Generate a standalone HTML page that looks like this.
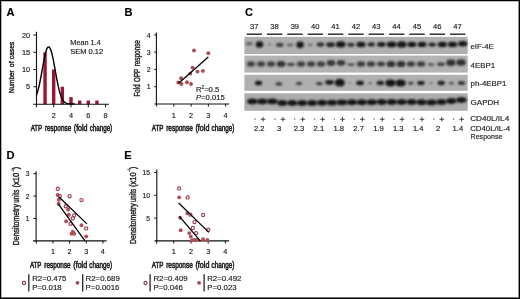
<!DOCTYPE html>
<html><head><meta charset="utf-8"><style>
html,body{margin:0;padding:0;background:#fff;}
body{width:520px;height:299px;overflow:hidden;position:relative;}
svg{position:absolute;left:0;top:0;display:block;will-change:transform;}
svg text{font-family:"Liberation Sans", sans-serif;stroke:#222;stroke-width:0.16px;}
</style></head><body>
<svg width="520" height="299" viewBox="0 0 520 299">
<rect x="0" y="0" width="520" height="299" fill="#fff"/>
<text x="6.60" y="15.70" font-size="11.1" text-anchor="start" font-weight="bold" fill="#000" >A</text>
<rect x="43.35" y="52.25" width="3.4" height="52.05" fill="#9b1538"/>
<rect x="52.00" y="69.50" width="3.4" height="34.80" fill="#9b1538"/>
<rect x="60.65" y="86.75" width="3.4" height="17.55" fill="#9b1538"/>
<rect x="69.30" y="97.10" width="3.4" height="7.20" fill="#9b1538"/>
<rect x="77.95" y="100.55" width="3.4" height="3.75" fill="#9b1538"/>
<rect x="86.60" y="100.55" width="3.4" height="3.75" fill="#9b1538"/>
<rect x="95.25" y="100.55" width="3.4" height="3.75" fill="#9b1538"/>
<path d="M36.40,95.38 L36.83,94.16 L37.27,92.81 L37.70,91.35 L38.13,89.76 L38.56,88.05 L38.99,86.23 L39.43,84.28 L39.86,82.24 L40.29,80.09 L40.73,77.86 L41.16,75.56 L41.59,73.20 L42.02,70.81 L42.45,68.41 L42.89,66.01 L43.32,63.65 L43.75,61.35 L44.19,59.14 L44.62,57.03 L45.05,55.07 L45.48,53.27 L45.91,51.65 L46.35,50.24 L46.78,49.06 L47.21,48.13 L47.64,47.45 L48.08,47.04 L48.51,46.90 L48.94,46.99 L49.38,47.29 L49.81,47.81 L50.24,48.56 L50.67,49.54 L51.11,50.75 L51.54,52.18 L51.97,53.81 L52.40,55.62 L52.84,57.59 L53.27,59.71 L53.70,61.94 L54.13,64.26 L54.56,66.65 L55.00,69.08 L55.43,71.52 L55.86,73.95 L56.30,76.34 L56.73,78.68 L57.16,80.95 L57.59,83.13 L58.02,85.21 L58.46,87.17 L58.89,89.02 L59.32,90.73 L59.76,92.31 L60.19,93.77 L60.62,95.09 L61.05,96.29 L61.48,97.36 L61.92,98.32 L62.35,99.16 L62.78,99.91 L63.22,100.56 L63.65,101.12 L64.08,101.61 L64.51,102.02 L64.94,102.38 L65.38,102.67 L65.81,102.92 L66.24,103.13 L66.67,103.30 L67.11,103.44 L67.54,103.56 L67.97,103.65 L68.41,103.73 L68.84,103.79 L69.27,103.84 L69.70,103.87 L70.14,103.90 L70.57,103.93 L71.00,103.94 L71.43,103.96 L71.87,103.97 L72.30,103.98 L72.73,103.98 L73.16,103.99 L73.59,103.99 L74.03,103.99 L74.46,104.00 L74.89,104.00" fill="none" stroke="#000" stroke-width="1.4"/>
<line x1="36.50" y1="31.80" x2="36.50" y2="104.90" stroke="#111" stroke-width="1.1"/>
<line x1="33.20" y1="104.30" x2="109.00" y2="104.30" stroke="#111" stroke-width="1.1"/>
<line x1="33.40" y1="86.75" x2="36.50" y2="86.75" stroke="#111" stroke-width="1.0"/>
<text x="30.00" y="89.35" font-size="7.3" text-anchor="end" font-weight="normal" fill="#222" >5</text>
<line x1="33.40" y1="69.50" x2="36.50" y2="69.50" stroke="#111" stroke-width="1.0"/>
<text x="30.00" y="72.10" font-size="7.3" text-anchor="end" font-weight="normal" fill="#222" >10</text>
<line x1="33.40" y1="52.25" x2="36.50" y2="52.25" stroke="#111" stroke-width="1.0"/>
<text x="30.00" y="54.85" font-size="7.3" text-anchor="end" font-weight="normal" fill="#222" >15</text>
<line x1="33.40" y1="35.00" x2="36.50" y2="35.00" stroke="#111" stroke-width="1.0"/>
<text x="30.00" y="37.60" font-size="7.3" text-anchor="end" font-weight="normal" fill="#222" >20</text>
<line x1="36.40" y1="104.30" x2="36.40" y2="107.30" stroke="#111" stroke-width="1.0"/>
<line x1="53.70" y1="104.30" x2="53.70" y2="107.30" stroke="#111" stroke-width="1.0"/>
<line x1="71.00" y1="104.30" x2="71.00" y2="107.30" stroke="#111" stroke-width="1.0"/>
<line x1="88.30" y1="104.30" x2="88.30" y2="107.30" stroke="#111" stroke-width="1.0"/>
<line x1="105.60" y1="104.30" x2="105.60" y2="107.30" stroke="#111" stroke-width="1.0"/>
<text x="53.70" y="117.60" font-size="7.3" text-anchor="middle" font-weight="normal" fill="#222" >2</text>
<text x="71.00" y="117.60" font-size="7.3" text-anchor="middle" font-weight="normal" fill="#222" >4</text>
<text x="88.30" y="117.60" font-size="7.3" text-anchor="middle" font-weight="normal" fill="#222" >6</text>
<text x="105.60" y="117.60" font-size="7.3" text-anchor="middle" font-weight="normal" fill="#222" >8</text>
<text x="30.70" y="130.70" font-size="9.4" font-weight="normal" fill="#222" style="stroke:#222;stroke-width:0.6px" textLength="11.55" lengthAdjust="spacingAndGlyphs">ATP</text>
<text x="44.95" y="130.70" font-size="9.4" font-weight="normal" fill="#222" style="stroke:#222;stroke-width:0.6px" textLength="26.25" lengthAdjust="spacingAndGlyphs">response</text>
<text x="73.80" y="130.70" font-size="9.4" font-weight="normal" fill="#222" style="stroke:#222;stroke-width:0.6px" textLength="13.75" lengthAdjust="spacingAndGlyphs">(fold</text>
<text x="89.70" y="130.70" font-size="9.4" font-weight="normal" fill="#222" style="stroke:#222;stroke-width:0.6px" textLength="22.50" lengthAdjust="spacingAndGlyphs">change)</text>
<text transform="translate(14.20,93.00) rotate(-90)" x="0" y="0" font-size="8.1" font-weight="normal" fill="#222" style="stroke:#222;stroke-width:0.4px" textLength="22.60" lengthAdjust="spacingAndGlyphs">Number</text>
<text transform="translate(14.20,67.30) rotate(-90)" x="0" y="0" font-size="8.1" font-weight="normal" fill="#222" style="stroke:#222;stroke-width:0.4px" textLength="5.90" lengthAdjust="spacingAndGlyphs">of</text>
<text transform="translate(14.20,59.20) rotate(-90)" x="0" y="0" font-size="8.1" font-weight="normal" fill="#222" style="stroke:#222;stroke-width:0.4px" textLength="17.40" lengthAdjust="spacingAndGlyphs">cases</text>
<text x="70.30" y="44.60" font-size="7.3" text-anchor="start" font-weight="normal" fill="#222" >Mean 1.4</text>
<text x="70.20" y="53.80" font-size="7.5" text-anchor="start" font-weight="normal" fill="#222" >SEM 0.12</text>
<text x="124.60" y="15.70" font-size="11.1" text-anchor="start" font-weight="bold" fill="#000" >B</text>
<line x1="156.40" y1="32.60" x2="156.40" y2="104.50" stroke="#111" stroke-width="1.1"/>
<line x1="154.40" y1="104.00" x2="229.20" y2="104.00" stroke="#111" stroke-width="1.1"/>
<line x1="154.20" y1="86.65" x2="156.40" y2="86.65" stroke="#111" stroke-width="1.0"/>
<text x="150.60" y="89.45" font-size="7.0" text-anchor="end" font-weight="normal" fill="#222" >1</text>
<line x1="154.20" y1="69.40" x2="156.40" y2="69.40" stroke="#111" stroke-width="1.0"/>
<text x="150.60" y="72.20" font-size="7.0" text-anchor="end" font-weight="normal" fill="#222" >2</text>
<line x1="154.20" y1="52.15" x2="156.40" y2="52.15" stroke="#111" stroke-width="1.0"/>
<text x="150.60" y="54.95" font-size="7.0" text-anchor="end" font-weight="normal" fill="#222" >3</text>
<line x1="154.20" y1="34.90" x2="156.40" y2="34.90" stroke="#111" stroke-width="1.0"/>
<text x="150.60" y="37.70" font-size="7.0" text-anchor="end" font-weight="normal" fill="#222" >4</text>
<line x1="156.60" y1="103.90" x2="156.60" y2="106.60" stroke="#111" stroke-width="1.0"/>
<line x1="173.85" y1="103.90" x2="173.85" y2="106.60" stroke="#111" stroke-width="1.0"/>
<line x1="191.10" y1="103.90" x2="191.10" y2="106.60" stroke="#111" stroke-width="1.0"/>
<line x1="208.35" y1="103.90" x2="208.35" y2="106.60" stroke="#111" stroke-width="1.0"/>
<line x1="225.60" y1="103.90" x2="225.60" y2="106.60" stroke="#111" stroke-width="1.0"/>
<text x="173.85" y="117.60" font-size="7.3" text-anchor="middle" font-weight="normal" fill="#222" >1</text>
<text x="191.10" y="117.60" font-size="7.3" text-anchor="middle" font-weight="normal" fill="#222" >2</text>
<text x="208.35" y="117.60" font-size="7.3" text-anchor="middle" font-weight="normal" fill="#222" >3</text>
<text x="225.60" y="117.60" font-size="7.3" text-anchor="middle" font-weight="normal" fill="#222" >4</text>
<text x="151.70" y="131.00" font-size="9.4" font-weight="normal" fill="#222" style="stroke:#222;stroke-width:0.6px" textLength="11.71" lengthAdjust="spacingAndGlyphs">ATP</text>
<text x="166.16" y="131.00" font-size="9.4" font-weight="normal" fill="#222" style="stroke:#222;stroke-width:0.6px" textLength="26.63" lengthAdjust="spacingAndGlyphs">response</text>
<text x="195.44" y="131.00" font-size="9.4" font-weight="normal" fill="#222" style="stroke:#222;stroke-width:0.6px" textLength="13.95" lengthAdjust="spacingAndGlyphs">(fold</text>
<text x="211.57" y="131.00" font-size="9.4" font-weight="normal" fill="#222" style="stroke:#222;stroke-width:0.6px" textLength="22.83" lengthAdjust="spacingAndGlyphs">change)</text>
<text transform="translate(140.40,96.50) rotate(-90)" x="0" y="0" font-size="8.3" font-weight="normal" fill="#222" style="stroke:#222;stroke-width:0.4px" textLength="12.10" lengthAdjust="spacingAndGlyphs">Fold</text>
<text transform="translate(140.40,81.90) rotate(-90)" x="0" y="0" font-size="8.3" font-weight="normal" fill="#222" style="stroke:#222;stroke-width:0.4px" textLength="13.10" lengthAdjust="spacingAndGlyphs">OPP</text>
<text transform="translate(140.40,66.30) rotate(-90)" x="0" y="0" font-size="8.3" font-weight="normal" fill="#222" style="stroke:#222;stroke-width:0.4px" textLength="26.20" lengthAdjust="spacingAndGlyphs">response</text>
<circle cx="194.0" cy="50.5" r="1.95" fill="#a64e52"/>
<circle cx="208.3" cy="53.3" r="1.95" fill="#a64e52"/>
<circle cx="192.6" cy="67.6" r="1.95" fill="#a64e52"/>
<circle cx="197.5" cy="71.6" r="1.95" fill="#a64e52"/>
<circle cx="202.9" cy="70.9" r="1.95" fill="#a64e52"/>
<circle cx="190.3" cy="73.5" r="1.95" fill="#a64e52"/>
<circle cx="181.1" cy="78.2" r="1.95" fill="#a64e52"/>
<circle cx="178.3" cy="82.4" r="1.95" fill="#a64e52"/>
<circle cx="181.4" cy="84.0" r="1.95" fill="#a64e52"/>
<circle cx="187.0" cy="82.2" r="1.95" fill="#a64e52"/>
<circle cx="191.0" cy="84.0" r="1.95" fill="#a64e52"/>
<line x1="178.60" y1="83.30" x2="208.30" y2="57.10" stroke="#000" stroke-width="1.3"/>
<text x="195.9" y="91.7" font-size="7.7" fill="#222">R<tspan font-size="4.8" dy="-2.8">2</tspan><tspan dy="2.8">=0.5</tspan></text>
<text x="195.9" y="100.4" font-size="7.7" fill="#222"><tspan font-style="italic">P</tspan>=0.015</text>
<text x="245.00" y="15.70" font-size="11.1" text-anchor="start" font-weight="bold" fill="#000" >C</text>
<line x1="246.60" y1="34.20" x2="262.00" y2="34.20" stroke="#333" stroke-width="1.5"/>
<text x="254.20" y="29.20" font-size="7.6" text-anchor="middle" font-weight="normal" fill="#222" >37</text>
<line x1="266.94" y1="34.20" x2="282.34" y2="34.20" stroke="#333" stroke-width="1.5"/>
<text x="274.54" y="29.20" font-size="7.6" text-anchor="middle" font-weight="normal" fill="#222" >38</text>
<line x1="287.28" y1="34.20" x2="302.68" y2="34.20" stroke="#333" stroke-width="1.5"/>
<text x="294.88" y="29.20" font-size="7.6" text-anchor="middle" font-weight="normal" fill="#222" >39</text>
<line x1="307.62" y1="34.20" x2="323.02" y2="34.20" stroke="#333" stroke-width="1.5"/>
<text x="315.22" y="29.20" font-size="7.6" text-anchor="middle" font-weight="normal" fill="#222" >40</text>
<line x1="327.96" y1="34.20" x2="343.36" y2="34.20" stroke="#333" stroke-width="1.5"/>
<text x="335.56" y="29.20" font-size="7.6" text-anchor="middle" font-weight="normal" fill="#222" >41</text>
<line x1="348.30" y1="34.20" x2="363.70" y2="34.20" stroke="#333" stroke-width="1.5"/>
<text x="355.90" y="29.20" font-size="7.6" text-anchor="middle" font-weight="normal" fill="#222" >42</text>
<line x1="368.64" y1="34.20" x2="384.04" y2="34.20" stroke="#333" stroke-width="1.5"/>
<text x="376.24" y="29.20" font-size="7.6" text-anchor="middle" font-weight="normal" fill="#222" >43</text>
<line x1="388.98" y1="34.20" x2="404.38" y2="34.20" stroke="#333" stroke-width="1.5"/>
<text x="396.58" y="29.20" font-size="7.6" text-anchor="middle" font-weight="normal" fill="#222" >44</text>
<line x1="409.32" y1="34.20" x2="424.72" y2="34.20" stroke="#333" stroke-width="1.5"/>
<text x="416.92" y="29.20" font-size="7.6" text-anchor="middle" font-weight="normal" fill="#222" >45</text>
<line x1="429.66" y1="34.20" x2="445.06" y2="34.20" stroke="#333" stroke-width="1.5"/>
<text x="437.26" y="29.20" font-size="7.6" text-anchor="middle" font-weight="normal" fill="#222" >46</text>
<line x1="450.00" y1="34.20" x2="465.40" y2="34.20" stroke="#333" stroke-width="1.5"/>
<text x="457.60" y="29.20" font-size="7.6" text-anchor="middle" font-weight="normal" fill="#222" >47</text>
<defs><filter id="bl" x="-50%" y="-50%" width="200%" height="200%"><feGaussianBlur stdDeviation="0.9"/></filter></defs>
<rect x="244.4" y="36.9" width="223.3" height="17.20" fill="#b0b0b0"/>
<rect x="244.4" y="55.6" width="223.3" height="17.00" fill="#b3b3b3"/>
<rect x="244.4" y="74.8" width="223.3" height="16.00" fill="#b0b0b0"/>
<rect x="244.4" y="93.3" width="223.3" height="17.50" fill="#adadad"/>
<ellipse cx="249.30" cy="43.80" rx="3.49" ry="1.49" fill="rgb(93,93,93)" filter="url(#bl)"/>
<ellipse cx="251.00" cy="64.00" rx="4.20" ry="2.65" fill="rgb(65,65,65)" filter="url(#bl)"/>
<ellipse cx="252.40" cy="101.40" rx="5.46" ry="2.93" fill="rgb(25,25,25)" filter="url(#bl)"/>
<ellipse cx="259.46" cy="44.40" rx="3.72" ry="3.16" fill="rgb(18,18,18)" filter="url(#bl)"/>
<ellipse cx="261.00" cy="64.00" rx="4.20" ry="2.65" fill="rgb(65,65,65)" filter="url(#bl)"/>
<ellipse cx="258.55" cy="83.00" rx="3.61" ry="2.35" fill="rgb(25,25,25)" filter="url(#bl)"/>
<ellipse cx="262.35" cy="101.40" rx="5.46" ry="2.93" fill="rgb(25,25,25)" filter="url(#bl)"/>
<ellipse cx="269.62" cy="44.40" rx="1.95" ry="1.41" fill="rgb(138,138,138)" filter="url(#bl)"/>
<ellipse cx="271.00" cy="64.00" rx="4.20" ry="2.65" fill="rgb(65,65,65)" filter="url(#bl)"/>
<ellipse cx="272.30" cy="101.40" rx="5.46" ry="2.93" fill="rgb(25,25,25)" filter="url(#bl)"/>
<ellipse cx="279.78" cy="44.90" rx="3.75" ry="2.14" fill="rgb(63,63,63)" filter="url(#bl)"/>
<ellipse cx="281.00" cy="64.00" rx="4.45" ry="3.07" fill="rgb(51,51,51)" filter="url(#bl)"/>
<ellipse cx="278.85" cy="83.90" rx="3.33" ry="1.53" fill="rgb(48,48,48)" filter="url(#bl)"/>
<ellipse cx="282.25" cy="103.00" rx="5.46" ry="2.93" fill="rgb(25,25,25)" filter="url(#bl)"/>
<ellipse cx="289.94" cy="45.00" rx="3.37" ry="1.45" fill="rgb(100,100,100)" filter="url(#bl)"/>
<ellipse cx="291.00" cy="64.40" rx="4.04" ry="1.61" fill="rgb(63,63,63)" filter="url(#bl)"/>
<ellipse cx="292.20" cy="103.00" rx="5.46" ry="2.93" fill="rgb(25,25,25)" filter="url(#bl)"/>
<ellipse cx="300.10" cy="44.70" rx="3.72" ry="3.30" fill="rgb(18,18,18)" filter="url(#bl)"/>
<ellipse cx="301.00" cy="64.00" rx="4.25" ry="2.68" fill="rgb(63,63,63)" filter="url(#bl)"/>
<ellipse cx="299.15" cy="83.50" rx="3.07" ry="1.49" fill="rgb(55,55,55)" filter="url(#bl)"/>
<ellipse cx="302.15" cy="103.00" rx="5.46" ry="2.93" fill="rgb(25,25,25)" filter="url(#bl)"/>
<ellipse cx="310.26" cy="44.90" rx="2.82" ry="1.36" fill="rgb(115,115,115)" filter="url(#bl)"/>
<ellipse cx="311.00" cy="64.00" rx="4.25" ry="2.68" fill="rgb(63,63,63)" filter="url(#bl)"/>
<ellipse cx="312.10" cy="103.00" rx="5.46" ry="2.93" fill="rgb(25,25,25)" filter="url(#bl)"/>
<ellipse cx="320.42" cy="44.60" rx="3.77" ry="2.25" fill="rgb(48,48,48)" filter="url(#bl)"/>
<ellipse cx="321.00" cy="64.00" rx="4.25" ry="2.68" fill="rgb(63,63,63)" filter="url(#bl)"/>
<ellipse cx="319.45" cy="83.60" rx="3.41" ry="1.60" fill="rgb(55,55,55)" filter="url(#bl)"/>
<ellipse cx="322.05" cy="102.80" rx="5.46" ry="2.93" fill="rgb(25,25,25)" filter="url(#bl)"/>
<ellipse cx="330.58" cy="44.70" rx="4.42" ry="2.36" fill="rgb(33,33,33)" filter="url(#bl)"/>
<ellipse cx="331.00" cy="63.00" rx="4.38" ry="2.89" fill="rgb(55,55,55)" filter="url(#bl)"/>
<ellipse cx="329.60" cy="82.30" rx="4.37" ry="2.35" fill="rgb(25,25,25)" filter="url(#bl)"/>
<ellipse cx="332.00" cy="102.60" rx="5.46" ry="2.93" fill="rgb(25,25,25)" filter="url(#bl)"/>
<ellipse cx="340.74" cy="44.40" rx="4.88" ry="3.03" fill="rgb(18,18,18)" filter="url(#bl)"/>
<ellipse cx="341.00" cy="62.80" rx="4.38" ry="2.89" fill="rgb(55,55,55)" filter="url(#bl)"/>
<ellipse cx="339.75" cy="82.70" rx="5.07" ry="3.84" fill="rgb(18,18,18)" filter="url(#bl)"/>
<ellipse cx="341.95" cy="102.40" rx="5.46" ry="2.93" fill="rgb(25,25,25)" filter="url(#bl)"/>
<ellipse cx="350.90" cy="44.70" rx="3.77" ry="2.00" fill="rgb(48,48,48)" filter="url(#bl)"/>
<ellipse cx="351.00" cy="64.60" rx="3.71" ry="1.44" fill="rgb(70,70,70)" filter="url(#bl)"/>
<ellipse cx="349.90" cy="83.00" rx="1.87" ry="0.92" fill="rgb(138,138,138)" filter="url(#bl)"/>
<ellipse cx="351.90" cy="102.30" rx="5.46" ry="2.93" fill="rgb(25,25,25)" filter="url(#bl)"/>
<ellipse cx="361.06" cy="44.40" rx="4.65" ry="2.75" fill="rgb(18,18,18)" filter="url(#bl)"/>
<ellipse cx="361.00" cy="64.00" rx="4.30" ry="2.71" fill="rgb(60,60,60)" filter="url(#bl)"/>
<ellipse cx="360.05" cy="83.00" rx="3.80" ry="2.23" fill="rgb(25,25,25)" filter="url(#bl)"/>
<ellipse cx="361.85" cy="102.20" rx="5.46" ry="2.93" fill="rgb(25,25,25)" filter="url(#bl)"/>
<ellipse cx="371.22" cy="44.40" rx="3.66" ry="2.05" fill="rgb(40,40,40)" filter="url(#bl)"/>
<ellipse cx="371.00" cy="64.00" rx="4.30" ry="2.71" fill="rgb(60,60,60)" filter="url(#bl)"/>
<ellipse cx="370.20" cy="83.30" rx="2.26" ry="0.99" fill="rgb(100,100,100)" filter="url(#bl)"/>
<ellipse cx="371.80" cy="102.10" rx="5.46" ry="2.93" fill="rgb(25,25,25)" filter="url(#bl)"/>
<ellipse cx="381.38" cy="44.40" rx="4.31" ry="2.42" fill="rgb(25,25,25)" filter="url(#bl)"/>
<ellipse cx="381.00" cy="64.00" rx="4.20" ry="2.52" fill="rgb(65,65,65)" filter="url(#bl)"/>
<ellipse cx="380.35" cy="83.00" rx="3.70" ry="2.18" fill="rgb(33,33,33)" filter="url(#bl)"/>
<ellipse cx="381.75" cy="102.00" rx="5.46" ry="2.93" fill="rgb(25,25,25)" filter="url(#bl)"/>
<ellipse cx="391.54" cy="44.40" rx="4.88" ry="2.89" fill="rgb(18,18,18)" filter="url(#bl)"/>
<ellipse cx="391.00" cy="64.00" rx="4.50" ry="3.10" fill="rgb(48,48,48)" filter="url(#bl)"/>
<ellipse cx="390.50" cy="83.00" rx="5.27" ry="3.48" fill="rgb(18,18,18)" filter="url(#bl)"/>
<ellipse cx="391.70" cy="102.00" rx="5.46" ry="2.93" fill="rgb(25,25,25)" filter="url(#bl)"/>
<ellipse cx="401.70" cy="44.40" rx="5.12" ry="3.16" fill="rgb(18,18,18)" filter="url(#bl)"/>
<ellipse cx="401.00" cy="64.00" rx="4.50" ry="3.10" fill="rgb(48,48,48)" filter="url(#bl)"/>
<ellipse cx="400.65" cy="83.00" rx="5.27" ry="3.48" fill="rgb(18,18,18)" filter="url(#bl)"/>
<ellipse cx="401.65" cy="102.00" rx="5.46" ry="2.93" fill="rgb(25,25,25)" filter="url(#bl)"/>
<ellipse cx="411.86" cy="44.40" rx="4.53" ry="2.69" fill="rgb(25,25,25)" filter="url(#bl)"/>
<ellipse cx="411.00" cy="64.00" rx="4.30" ry="2.71" fill="rgb(60,60,60)" filter="url(#bl)"/>
<ellipse cx="410.80" cy="83.30" rx="2.98" ry="1.45" fill="rgb(63,63,63)" filter="url(#bl)"/>
<ellipse cx="411.60" cy="102.00" rx="5.46" ry="2.93" fill="rgb(25,25,25)" filter="url(#bl)"/>
<ellipse cx="422.02" cy="44.40" rx="4.53" ry="2.69" fill="rgb(25,25,25)" filter="url(#bl)"/>
<ellipse cx="421.00" cy="64.00" rx="4.30" ry="2.71" fill="rgb(60,60,60)" filter="url(#bl)"/>
<ellipse cx="420.95" cy="83.00" rx="3.70" ry="2.18" fill="rgb(33,33,33)" filter="url(#bl)"/>
<ellipse cx="421.55" cy="102.20" rx="5.46" ry="2.93" fill="rgb(25,25,25)" filter="url(#bl)"/>
<ellipse cx="432.18" cy="44.60" rx="3.87" ry="2.05" fill="rgb(40,40,40)" filter="url(#bl)"/>
<ellipse cx="431.00" cy="64.60" rx="3.40" ry="1.40" fill="rgb(78,78,78)" filter="url(#bl)"/>
<ellipse cx="431.10" cy="83.30" rx="2.11" ry="0.93" fill="rgb(115,115,115)" filter="url(#bl)"/>
<ellipse cx="431.50" cy="102.40" rx="5.46" ry="2.93" fill="rgb(25,25,25)" filter="url(#bl)"/>
<ellipse cx="442.34" cy="44.40" rx="4.65" ry="2.75" fill="rgb(18,18,18)" filter="url(#bl)"/>
<ellipse cx="441.00" cy="64.20" rx="3.99" ry="1.86" fill="rgb(65,65,65)" filter="url(#bl)"/>
<ellipse cx="441.25" cy="83.00" rx="3.70" ry="2.18" fill="rgb(33,33,33)" filter="url(#bl)"/>
<ellipse cx="441.45" cy="102.00" rx="5.46" ry="2.93" fill="rgb(25,25,25)" filter="url(#bl)"/>
<ellipse cx="452.50" cy="44.40" rx="4.65" ry="2.61" fill="rgb(18,18,18)" filter="url(#bl)"/>
<ellipse cx="451.00" cy="62.70" rx="4.73" ry="3.24" fill="rgb(48,48,48)" filter="url(#bl)"/>
<ellipse cx="451.40" cy="83.30" rx="2.81" ry="1.18" fill="rgb(78,78,78)" filter="url(#bl)"/>
<ellipse cx="451.40" cy="101.00" rx="5.46" ry="2.93" fill="rgb(25,25,25)" filter="url(#bl)"/>
<ellipse cx="462.66" cy="43.80" rx="4.65" ry="2.75" fill="rgb(18,18,18)" filter="url(#bl)"/>
<ellipse cx="461.00" cy="62.50" rx="4.73" ry="3.24" fill="rgb(48,48,48)" filter="url(#bl)"/>
<ellipse cx="461.55" cy="83.00" rx="3.70" ry="1.83" fill="rgb(33,33,33)" filter="url(#bl)"/>
<ellipse cx="461.35" cy="100.00" rx="5.46" ry="2.93" fill="rgb(25,25,25)" filter="url(#bl)"/>
<rect x="254.35" y="118.6" width="1.3" height="1.0" fill="#444"/>
<line x1="260.75" y1="119.30" x2="265.35" y2="119.30" stroke="#2a2a2a" stroke-width="0.85"/>
<line x1="263.05" y1="117.00" x2="263.05" y2="121.60" stroke="#2a2a2a" stroke-width="0.85"/>
<rect x="274.21" y="118.6" width="1.3" height="1.0" fill="#444"/>
<line x1="280.61" y1="119.30" x2="285.21" y2="119.30" stroke="#2a2a2a" stroke-width="0.85"/>
<line x1="282.91" y1="117.00" x2="282.91" y2="121.60" stroke="#2a2a2a" stroke-width="0.85"/>
<rect x="294.07" y="118.6" width="1.3" height="1.0" fill="#444"/>
<line x1="300.47" y1="119.30" x2="305.07" y2="119.30" stroke="#2a2a2a" stroke-width="0.85"/>
<line x1="302.77" y1="117.00" x2="302.77" y2="121.60" stroke="#2a2a2a" stroke-width="0.85"/>
<rect x="313.93" y="118.6" width="1.3" height="1.0" fill="#444"/>
<line x1="320.33" y1="119.30" x2="324.93" y2="119.30" stroke="#2a2a2a" stroke-width="0.85"/>
<line x1="322.63" y1="117.00" x2="322.63" y2="121.60" stroke="#2a2a2a" stroke-width="0.85"/>
<rect x="333.79" y="118.6" width="1.3" height="1.0" fill="#444"/>
<line x1="340.19" y1="119.30" x2="344.79" y2="119.30" stroke="#2a2a2a" stroke-width="0.85"/>
<line x1="342.49" y1="117.00" x2="342.49" y2="121.60" stroke="#2a2a2a" stroke-width="0.85"/>
<rect x="353.65" y="118.6" width="1.3" height="1.0" fill="#444"/>
<line x1="360.05" y1="119.30" x2="364.65" y2="119.30" stroke="#2a2a2a" stroke-width="0.85"/>
<line x1="362.35" y1="117.00" x2="362.35" y2="121.60" stroke="#2a2a2a" stroke-width="0.85"/>
<rect x="373.51" y="118.6" width="1.3" height="1.0" fill="#444"/>
<line x1="379.91" y1="119.30" x2="384.51" y2="119.30" stroke="#2a2a2a" stroke-width="0.85"/>
<line x1="382.21" y1="117.00" x2="382.21" y2="121.60" stroke="#2a2a2a" stroke-width="0.85"/>
<rect x="393.37" y="118.6" width="1.3" height="1.0" fill="#444"/>
<line x1="399.77" y1="119.30" x2="404.37" y2="119.30" stroke="#2a2a2a" stroke-width="0.85"/>
<line x1="402.07" y1="117.00" x2="402.07" y2="121.60" stroke="#2a2a2a" stroke-width="0.85"/>
<rect x="413.23" y="118.6" width="1.3" height="1.0" fill="#444"/>
<line x1="419.63" y1="119.30" x2="424.23" y2="119.30" stroke="#2a2a2a" stroke-width="0.85"/>
<line x1="421.93" y1="117.00" x2="421.93" y2="121.60" stroke="#2a2a2a" stroke-width="0.85"/>
<rect x="433.09" y="118.6" width="1.3" height="1.0" fill="#444"/>
<line x1="439.49" y1="119.30" x2="444.09" y2="119.30" stroke="#2a2a2a" stroke-width="0.85"/>
<line x1="441.79" y1="117.00" x2="441.79" y2="121.60" stroke="#2a2a2a" stroke-width="0.85"/>
<rect x="452.95" y="118.6" width="1.3" height="1.0" fill="#444"/>
<line x1="459.35" y1="119.30" x2="463.95" y2="119.30" stroke="#2a2a2a" stroke-width="0.85"/>
<line x1="461.65" y1="117.00" x2="461.65" y2="121.60" stroke="#2a2a2a" stroke-width="0.85"/>
<text x="259.30" y="130.60" font-size="7.6" text-anchor="middle" font-weight="normal" fill="#222" >2.2</text>
<text x="279.16" y="130.60" font-size="7.6" text-anchor="middle" font-weight="normal" fill="#222" >3</text>
<text x="299.02" y="130.60" font-size="7.6" text-anchor="middle" font-weight="normal" fill="#222" >2.3</text>
<text x="318.88" y="130.60" font-size="7.6" text-anchor="middle" font-weight="normal" fill="#222" >2.1</text>
<text x="338.74" y="130.60" font-size="7.6" text-anchor="middle" font-weight="normal" fill="#222" >1.8</text>
<text x="358.60" y="130.60" font-size="7.6" text-anchor="middle" font-weight="normal" fill="#222" >2.7</text>
<text x="378.46" y="130.60" font-size="7.6" text-anchor="middle" font-weight="normal" fill="#222" >1.9</text>
<text x="398.32" y="130.60" font-size="7.6" text-anchor="middle" font-weight="normal" fill="#222" >1.3</text>
<text x="418.18" y="130.60" font-size="7.6" text-anchor="middle" font-weight="normal" fill="#222" >1.4</text>
<text x="438.04" y="130.60" font-size="7.6" text-anchor="middle" font-weight="normal" fill="#222" >2</text>
<text x="457.90" y="130.60" font-size="7.6" text-anchor="middle" font-weight="normal" fill="#222" >1.4</text>
<text x="470.40" y="49.30" font-size="7.8" text-anchor="start" font-weight="normal" fill="#222" >eIF-4E</text>
<text x="470.60" y="67.50" font-size="7.85" text-anchor="start" font-weight="normal" fill="#222" >4EBP1</text>
<text x="470.60" y="85.90" font-size="7.85" text-anchor="start" font-weight="normal" fill="#222" >ph-4EBP1</text>
<text x="470.60" y="105.20" font-size="8.0" text-anchor="start" font-weight="normal" fill="#222" >GAPDH</text>
<text x="470.20" y="120.90" font-size="7.6" text-anchor="start" font-weight="normal" fill="#222" textLength="39.0" lengthAdjust="spacingAndGlyphs" >CD40L/IL4</text>
<text x="470.20" y="130.70" font-size="7.6" text-anchor="start" font-weight="normal" fill="#222" textLength="40.0" lengthAdjust="spacingAndGlyphs" >CD40L/IL-4</text>
<text x="470.60" y="139.40" font-size="7.3" text-anchor="start" font-weight="normal" fill="#222" textLength="31.8" lengthAdjust="spacingAndGlyphs" >Response</text>
<text x="6.60" y="159.00" font-size="11.1" text-anchor="start" font-weight="bold" fill="#000" >D</text>
<line x1="36.10" y1="171.30" x2="36.10" y2="241.50" stroke="#111" stroke-width="1.1"/>
<line x1="33.00" y1="240.90" x2="106.60" y2="240.90" stroke="#111" stroke-width="1.1"/>
<line x1="33.40" y1="218.50" x2="36.10" y2="218.50" stroke="#111" stroke-width="1.0"/>
<text x="29.50" y="220.90" font-size="6.7" text-anchor="end" font-weight="normal" fill="#222" >1</text>
<line x1="33.40" y1="196.10" x2="36.10" y2="196.10" stroke="#111" stroke-width="1.0"/>
<text x="29.50" y="198.50" font-size="6.7" text-anchor="end" font-weight="normal" fill="#222" >2</text>
<line x1="33.40" y1="173.70" x2="36.10" y2="173.70" stroke="#111" stroke-width="1.0"/>
<text x="29.50" y="176.10" font-size="6.7" text-anchor="end" font-weight="normal" fill="#222" >3</text>
<line x1="36.30" y1="240.90" x2="36.30" y2="243.60" stroke="#111" stroke-width="1.0"/>
<line x1="52.95" y1="240.90" x2="52.95" y2="243.60" stroke="#111" stroke-width="1.0"/>
<line x1="69.60" y1="240.90" x2="69.60" y2="243.60" stroke="#111" stroke-width="1.0"/>
<line x1="86.25" y1="240.90" x2="86.25" y2="243.60" stroke="#111" stroke-width="1.0"/>
<line x1="102.90" y1="240.90" x2="102.90" y2="243.60" stroke="#111" stroke-width="1.0"/>
<text x="52.95" y="254.20" font-size="7.3" text-anchor="middle" font-weight="normal" fill="#222" >1</text>
<text x="69.60" y="254.20" font-size="7.3" text-anchor="middle" font-weight="normal" fill="#222" >2</text>
<text x="86.25" y="254.20" font-size="7.3" text-anchor="middle" font-weight="normal" fill="#222" >3</text>
<text x="102.90" y="254.20" font-size="7.3" text-anchor="middle" font-weight="normal" fill="#222" >4</text>
<text x="29.90" y="267.50" font-size="9.4" font-weight="normal" fill="#222" style="stroke:#222;stroke-width:0.6px" textLength="11.63" lengthAdjust="spacingAndGlyphs">ATP</text>
<text x="44.26" y="267.50" font-size="9.4" font-weight="normal" fill="#222" style="stroke:#222;stroke-width:0.6px" textLength="26.44" lengthAdjust="spacingAndGlyphs">response</text>
<text x="73.32" y="267.50" font-size="9.4" font-weight="normal" fill="#222" style="stroke:#222;stroke-width:0.6px" textLength="13.85" lengthAdjust="spacingAndGlyphs">(fold</text>
<text x="89.34" y="267.50" font-size="9.4" font-weight="normal" fill="#222" style="stroke:#222;stroke-width:0.6px" textLength="22.66" lengthAdjust="spacingAndGlyphs">change)</text>
<text transform="translate(19.40,245.20) rotate(-90)" x="0" y="0" font-size="8.8" font-weight="normal" fill="#222" style="stroke:#222;stroke-width:0.4px" textLength="41.10" lengthAdjust="spacingAndGlyphs">Densitometry</text>
<text transform="translate(19.40,202.80) rotate(-90)" x="0" y="0" font-size="8.8" font-weight="normal" fill="#222" style="stroke:#222;stroke-width:0.4px" textLength="13.30" lengthAdjust="spacingAndGlyphs">units</text>
<text transform="translate(19.40,187.50) rotate(-90)" x="0" y="0" font-size="8.8" font-weight="normal" fill="#222" style="stroke:#222;stroke-width:0.4px" textLength="14.80" lengthAdjust="spacingAndGlyphs">(x10</text>
<text transform="translate(19.40,169.20) rotate(-90)" x="0" y="0" font-size="8.8" font-weight="normal" fill="#222" style="stroke:#222;stroke-width:0.4px" textLength="2.40" lengthAdjust="spacingAndGlyphs">)</text>
<text transform="translate(15.20,171.90) rotate(-90)" x="0" y="0" font-size="5.0" font-weight="normal" fill="#222" style="stroke:#222;stroke-width:0.15px" textLength="2.70" lengthAdjust="spacingAndGlyphs">-4</text>
<circle cx="57.6" cy="195.0" r="1.95" fill="#b04e5a"/>
<circle cx="58.8" cy="199.8" r="1.95" fill="#b04e5a"/>
<circle cx="58.6" cy="203.8" r="1.95" fill="#b04e5a"/>
<circle cx="68.1" cy="209.5" r="1.95" fill="#b04e5a"/>
<circle cx="68.8" cy="214.8" r="1.95" fill="#b04e5a"/>
<circle cx="66.1" cy="221.3" r="1.95" fill="#b04e5a"/>
<circle cx="81.5" cy="225.3" r="1.95" fill="#b04e5a"/>
<circle cx="72.8" cy="231.8" r="1.95" fill="#b04e5a"/>
<circle cx="71.5" cy="233.8" r="1.95" fill="#b04e5a"/>
<circle cx="74.1" cy="233.8" r="1.95" fill="#b04e5a"/>
<circle cx="86.2" cy="236.5" r="1.95" fill="#b04e5a"/>
<circle cx="57.8" cy="188.7" r="1.6" fill="none" stroke="#a3435a" stroke-width="1.2"/>
<circle cx="69.6" cy="196.3" r="1.6" fill="none" stroke="#a3435a" stroke-width="1.2"/>
<circle cx="81.5" cy="200.1" r="1.6" fill="none" stroke="#a3435a" stroke-width="1.2"/>
<circle cx="59.8" cy="196.3" r="1.6" fill="none" stroke="#a3435a" stroke-width="1.2"/>
<circle cx="65.8" cy="206.3" r="1.6" fill="none" stroke="#a3435a" stroke-width="1.2"/>
<circle cx="74.1" cy="215.5" r="1.6" fill="none" stroke="#a3435a" stroke-width="1.2"/>
<circle cx="72.8" cy="218.3" r="1.6" fill="none" stroke="#a3435a" stroke-width="1.2"/>
<circle cx="70.6" cy="223.7" r="1.6" fill="none" stroke="#a3435a" stroke-width="1.2"/>
<circle cx="86.2" cy="228.4" r="1.6" fill="none" stroke="#a3435a" stroke-width="1.2"/>
<line x1="58.80" y1="196.80" x2="86.90" y2="223.90" stroke="#000" stroke-width="1.3"/>
<line x1="58.40" y1="204.20" x2="85.00" y2="240.90" stroke="#000" stroke-width="1.3"/>
<circle cx="24.0" cy="283.0" r="1.55" fill="none" stroke="#93384f" stroke-width="1.2"/>
<line x1="28.80" y1="274.30" x2="28.80" y2="291.60" stroke="#333" stroke-width="1.4"/>
<text x="32.20" y="280.80" font-size="7.85" text-anchor="start" font-weight="normal" fill="#222" >R2=0.475</text>
<text x="32.20" y="290.00" font-size="7.85" text-anchor="start" font-weight="normal" fill="#222" >P=0.018</text>
<circle cx="77.5" cy="282.8" r="1.9" fill="#a34656"/>
<line x1="82.70" y1="274.30" x2="82.70" y2="291.60" stroke="#111" stroke-width="1.2"/>
<text x="85.60" y="280.80" font-size="7.85" text-anchor="start" font-weight="normal" fill="#222" >R2=0.689</text>
<text x="85.60" y="290.00" font-size="7.85" text-anchor="start" font-weight="normal" fill="#222" >P=0.0016</text>
<text x="124.30" y="159.00" font-size="11.1" text-anchor="start" font-weight="bold" fill="#000" >E</text>
<line x1="156.80" y1="169.40" x2="156.80" y2="241.50" stroke="#111" stroke-width="1.1"/>
<line x1="154.50" y1="240.90" x2="229.10" y2="240.90" stroke="#111" stroke-width="1.1"/>
<line x1="154.20" y1="218.10" x2="156.80" y2="218.10" stroke="#111" stroke-width="1.0"/>
<text x="150.00" y="220.50" font-size="6.7" text-anchor="end" font-weight="normal" fill="#222" >5</text>
<line x1="154.20" y1="195.30" x2="156.80" y2="195.30" stroke="#111" stroke-width="1.0"/>
<text x="150.00" y="197.70" font-size="6.7" text-anchor="end" font-weight="normal" fill="#222" >10</text>
<line x1="154.20" y1="172.50" x2="156.80" y2="172.50" stroke="#111" stroke-width="1.0"/>
<text x="150.00" y="174.90" font-size="6.7" text-anchor="end" font-weight="normal" fill="#222" >15</text>
<line x1="156.60" y1="240.90" x2="156.60" y2="243.60" stroke="#111" stroke-width="1.0"/>
<line x1="173.80" y1="240.90" x2="173.80" y2="243.60" stroke="#111" stroke-width="1.0"/>
<line x1="191.00" y1="240.90" x2="191.00" y2="243.60" stroke="#111" stroke-width="1.0"/>
<line x1="208.20" y1="240.90" x2="208.20" y2="243.60" stroke="#111" stroke-width="1.0"/>
<line x1="225.40" y1="240.90" x2="225.40" y2="243.60" stroke="#111" stroke-width="1.0"/>
<text x="173.80" y="254.20" font-size="7.3" text-anchor="middle" font-weight="normal" fill="#222" >1</text>
<text x="191.00" y="254.20" font-size="7.3" text-anchor="middle" font-weight="normal" fill="#222" >2</text>
<text x="208.20" y="254.20" font-size="7.3" text-anchor="middle" font-weight="normal" fill="#222" >3</text>
<text x="225.40" y="254.20" font-size="7.3" text-anchor="middle" font-weight="normal" fill="#222" >4</text>
<text x="151.70" y="267.50" font-size="9.4" font-weight="normal" fill="#222" style="stroke:#222;stroke-width:0.6px" textLength="11.71" lengthAdjust="spacingAndGlyphs">ATP</text>
<text x="166.16" y="267.50" font-size="9.4" font-weight="normal" fill="#222" style="stroke:#222;stroke-width:0.6px" textLength="26.63" lengthAdjust="spacingAndGlyphs">response</text>
<text x="195.44" y="267.50" font-size="9.4" font-weight="normal" fill="#222" style="stroke:#222;stroke-width:0.6px" textLength="13.95" lengthAdjust="spacingAndGlyphs">(fold</text>
<text x="211.57" y="267.50" font-size="9.4" font-weight="normal" fill="#222" style="stroke:#222;stroke-width:0.6px" textLength="22.83" lengthAdjust="spacingAndGlyphs">change)</text>
<text transform="translate(135.50,243.90) rotate(-90)" x="0" y="0" font-size="8.8" font-weight="normal" fill="#222" style="stroke:#222;stroke-width:0.4px" textLength="40.53" lengthAdjust="spacingAndGlyphs">Densitometry</text>
<text transform="translate(135.50,202.10) rotate(-90)" x="0" y="0" font-size="8.8" font-weight="normal" fill="#222" style="stroke:#222;stroke-width:0.4px" textLength="13.12" lengthAdjust="spacingAndGlyphs">units</text>
<text transform="translate(135.50,187.01) rotate(-90)" x="0" y="0" font-size="8.8" font-weight="normal" fill="#222" style="stroke:#222;stroke-width:0.4px" textLength="14.60" lengthAdjust="spacingAndGlyphs">(x10</text>
<text transform="translate(135.50,168.97) rotate(-90)" x="0" y="0" font-size="8.8" font-weight="normal" fill="#222" style="stroke:#222;stroke-width:0.4px" textLength="2.37" lengthAdjust="spacingAndGlyphs">)</text>
<text transform="translate(131.30,171.63) rotate(-90)" x="0" y="0" font-size="5.0" font-weight="normal" fill="#222" style="stroke:#222;stroke-width:0.15px" textLength="2.67" lengthAdjust="spacingAndGlyphs">-4</text>
<circle cx="179.1" cy="197.4" r="1.95" fill="#b04e5a"/>
<circle cx="187.4" cy="213.3" r="1.95" fill="#b04e5a"/>
<circle cx="180.1" cy="217.7" r="1.95" fill="#b04e5a"/>
<circle cx="180.7" cy="230.2" r="1.95" fill="#b04e5a"/>
<circle cx="189.2" cy="233.1" r="1.95" fill="#b04e5a"/>
<circle cx="190.8" cy="236.5" r="1.95" fill="#b04e5a"/>
<circle cx="192.1" cy="240.3" r="1.95" fill="#b04e5a"/>
<circle cx="194.3" cy="240.0" r="1.95" fill="#b04e5a"/>
<circle cx="196.8" cy="240.0" r="1.95" fill="#b04e5a"/>
<circle cx="203.1" cy="239.2" r="1.95" fill="#b04e5a"/>
<circle cx="207.5" cy="240.0" r="1.95" fill="#b04e5a"/>
<circle cx="179.1" cy="188.4" r="1.6" fill="none" stroke="#a3435a" stroke-width="1.2"/>
<circle cx="187.7" cy="197.4" r="1.6" fill="none" stroke="#a3435a" stroke-width="1.2"/>
<circle cx="203.1" cy="215.0" r="1.6" fill="none" stroke="#a3435a" stroke-width="1.2"/>
<circle cx="190.3" cy="214.6" r="1.6" fill="none" stroke="#a3435a" stroke-width="1.2"/>
<circle cx="194.5" cy="222.1" r="1.6" fill="none" stroke="#a3435a" stroke-width="1.2"/>
<circle cx="192.8" cy="228.0" r="1.6" fill="none" stroke="#a3435a" stroke-width="1.2"/>
<circle cx="208.2" cy="229.8" r="1.6" fill="none" stroke="#a3435a" stroke-width="1.2"/>
<circle cx="196.1" cy="233.1" r="1.6" fill="none" stroke="#a3435a" stroke-width="1.2"/>
<line x1="178.70" y1="203.00" x2="208.90" y2="232.40" stroke="#000" stroke-width="1.3"/>
<line x1="179.40" y1="216.40" x2="200.20" y2="240.90" stroke="#000" stroke-width="1.3"/>
<circle cx="145.5" cy="283.0" r="1.55" fill="none" stroke="#93384f" stroke-width="1.2"/>
<line x1="150.10" y1="274.30" x2="150.10" y2="291.60" stroke="#111" stroke-width="1.2"/>
<text x="153.40" y="280.80" font-size="7.85" text-anchor="start" font-weight="normal" fill="#222" >R2=0.409</text>
<text x="153.40" y="290.00" font-size="7.85" text-anchor="start" font-weight="normal" fill="#222" >P=0.046</text>
<circle cx="199.1" cy="282.8" r="1.9" fill="#a34656"/>
<line x1="204.10" y1="274.30" x2="204.10" y2="291.60" stroke="#111" stroke-width="1.2"/>
<text x="207.20" y="280.80" font-size="7.85" text-anchor="start" font-weight="normal" fill="#222" >R2=0.492</text>
<text x="207.20" y="290.00" font-size="7.85" text-anchor="start" font-weight="normal" fill="#222" >P=0.023</text>
<rect x="1" y="1" width="1" height="297" fill="#b0b0b0"/>
<rect x="0" y="1" width="520" height="1" fill="#bebebe"/>
<rect x="518" y="0" width="1" height="299" fill="#909090"/>
<rect x="0" y="297" width="520" height="1" fill="#787878"/>
<rect x="0" y="0" width="520" height="1" fill="#000"/>
<rect x="0" y="0" width="1" height="299" fill="#000"/>
<rect x="519" y="0" width="1" height="299" fill="#000"/>
<rect x="0" y="298" width="520" height="1" fill="#000"/>
</svg>
</body></html>
